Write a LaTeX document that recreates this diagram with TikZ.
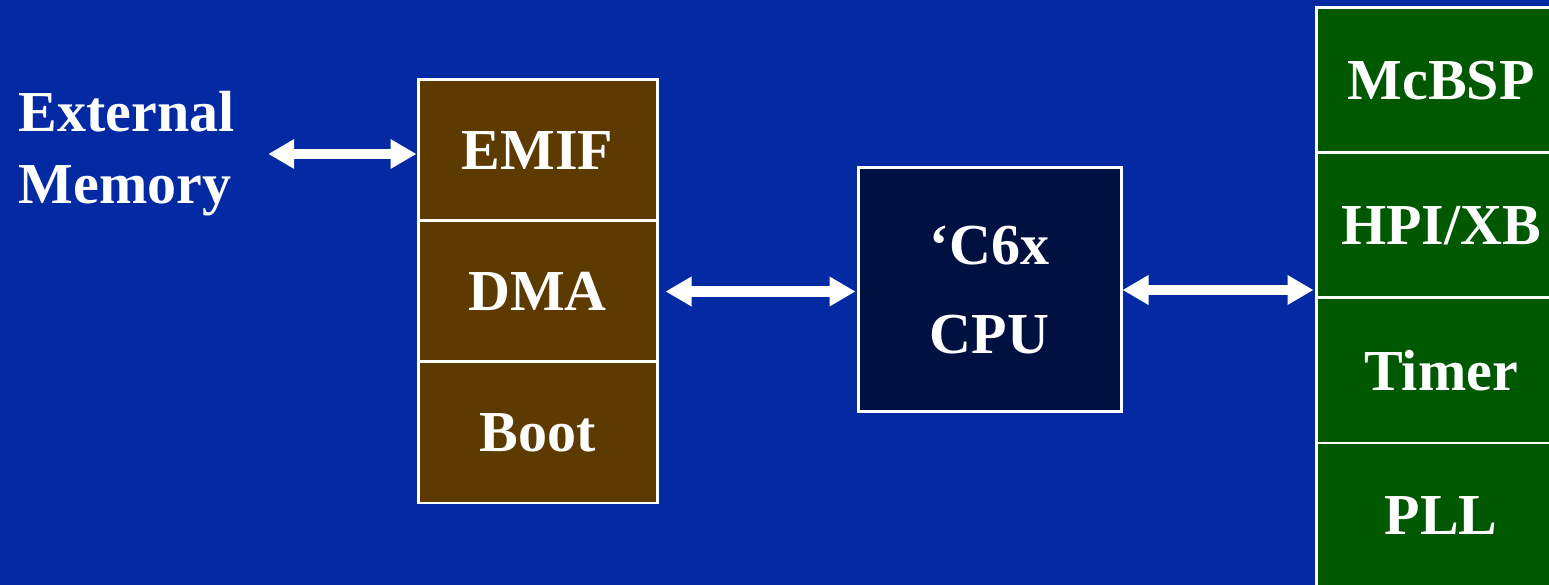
\documentclass[tikz,border=0pt]{standalone}
\usepackage{fontspec}
\setmainfont{Liberation Serif}
\usepackage{tikz}
\usetikzlibrary{arrows.meta,positioning,calc}
\definecolor{slideblue}{RGB}{3,41,163}
\definecolor{busbrown}{RGB}{93,58,0}
\definecolor{cpunavy}{RGB}{0,16,64}
\definecolor{periphgreen}{RGB}{0,89,0}
\tikzset{
  unitbox/.style={draw=white,line width=1.7pt,rectangle,text=white,font=\fontsize{33}{40}\selectfont\bfseries},
  busbox/.style={unitbox,fill=busbrown,minimum width=4.78cm,minimum height=2.82cm},
  periphbox/.style={unitbox,fill=periphgreen,minimum width=5.0cm,minimum height=2.9cm},
  dblarrow/.style={white,line width=6pt,{Triangle[length=0.52cm,width=0.56cm]}-{Triangle[length=0.52cm,width=0.56cm]}}
}
\begin{document}
\begin{tikzpicture}
            % Background
            \fill[slideblue] (0,0) rectangle (30.98,11.70);
            \useasboundingbox (0,0) rectangle (30.98,11.70);
            \clip (0,0) rectangle (30.98,11.70);

            % External memory
            \node[anchor=west,align=left,text=white,font=\fontsize{33}{41}\selectfont\bfseries] (extmem) at (0.25,8.62) {External\\Memory};

            % Bus units
            \node[busbox] (emif) at (10.75,8.69) {EMIF};
            \node[busbox] (dma) at (10.75,5.87) {DMA};
            \node[busbox] (boot) at (10.75,3.05) {Boot};

            % CPU
            \node[unitbox,fill=cpunavy,minimum width=5.26cm,minimum height=4.88cm,align=center,font=\fontsize{33}{51}\selectfont\bfseries] (cpu) at (19.79,5.90) {‘C6x\\CPU};

            % Peripherals
            \node[periphbox] (mcbsp) at (28.82,10.09) {McBSP};
            \node[periphbox] (hpi) at (28.82,7.19) {HPI/XB};
            \node[periphbox] (timer) at (28.82,4.29) {Timer};
            \node[periphbox] (pll) at (28.82,1.39) {PLL};

            % Connections
            \draw[dblarrow,shorten <=0.55cm] (extmem.east) -- (extmem.east -| emif.west);
            \draw[dblarrow,shorten <=0.14cm,shorten >=0.02cm] (dma.east) -- (dma.east -| cpu.west);
            \draw[dblarrow,shorten >=0.02cm] (cpu.east) -- (cpu.east -| hpi.west);
        \end{tikzpicture}
\end{document}
